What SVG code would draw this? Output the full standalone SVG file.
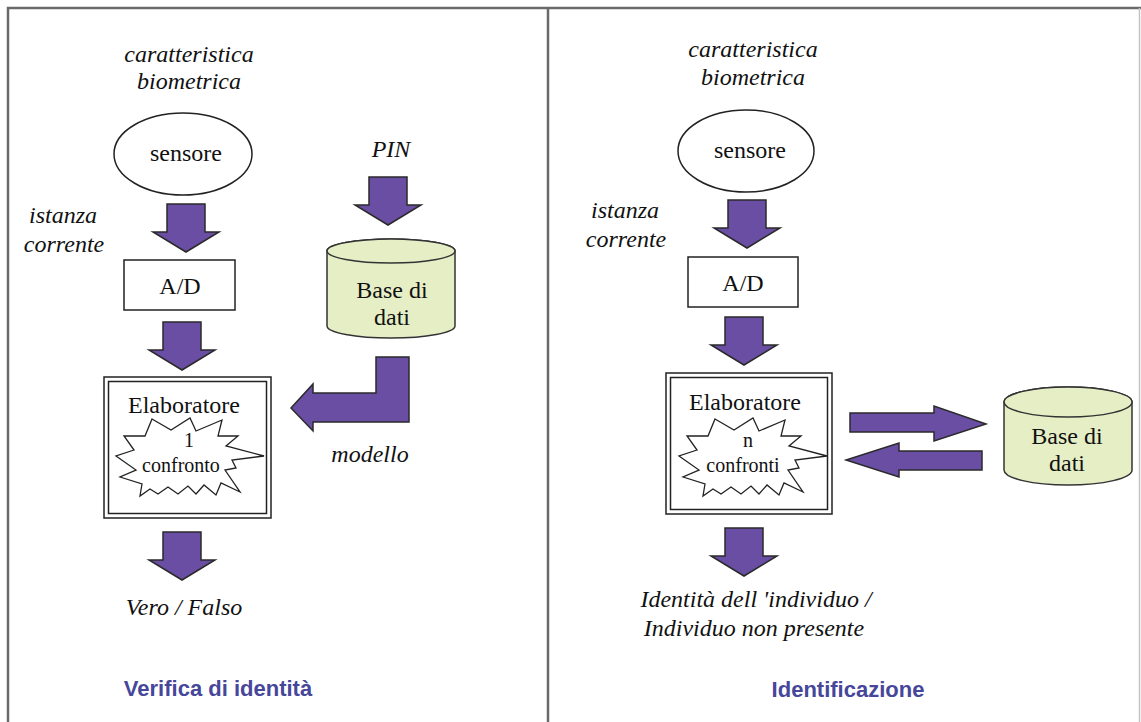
<svg xmlns="http://www.w3.org/2000/svg" xmlns:xlink="http://www.w3.org/1999/xlink" width="1141" height="722" viewBox="0 0 1141 722">
<style>
.frame{fill:none;stroke:#6a6a6a;stroke-width:2.5}
.t{font-family:"Liberation Serif","Times New Roman","DejaVu Serif",serif;font-size:24px;fill:#111;text-anchor:middle}
.it{font-family:"Liberation Serif","Times New Roman","DejaVu Serif",serif;font-style:italic;font-size:24px;fill:#111;text-anchor:middle}
.sm{font-family:"Liberation Serif","Times New Roman","DejaVu Serif",serif;font-size:20px;fill:#111;text-anchor:middle}
.title{font-family:"Liberation Sans",Arial,sans-serif;font-weight:bold;font-size:22px;fill:#46469a;text-anchor:middle}
.box{fill:#fff;stroke:#222;stroke-width:1.5}
.db{fill:#e6eec6;stroke:#333;stroke-width:1.5}
.arr{fill:#6a4ea4;stroke:#2a2a2a;stroke-width:1.5;stroke-linejoin:miter}
.star{fill:#fff;stroke:#222;stroke-width:1.3}
</style>
<defs>
<path id="down" d="M-19,0 H19 V28 H33 L0,48 L-33,28 H-19 Z"/>
<polygon id="starL" points="152,419 171,430 190,418 196,431 222,420 218,436 238,436 226,446 264,456 232,460 236,468 225,470 240,492 221,483 216,495 204,485 196,494 188,486 178,494 168,487 158,494 150,489 140,496 142,484 120,477 136,470 116,456 134,450 124,436 145,436"/>
</defs>
<rect width="1141" height="722" fill="#fff"/>
<g id="frame">
<path class="frame" d="M8,722 V8 H1141"/>
<line class="frame" x1="548" y1="8" x2="548" y2="722"/>
<line x1="1139.5" y1="8" x2="1139.5" y2="722" stroke="#c4c4c4" stroke-width="1.5"/>
</g>
<g id="connectors">
<use xlink:href="#down" href="#down" class="arr" x="186" y="204"/>
<use xlink:href="#down" href="#down" class="arr" x="182" y="322"/>
<use xlink:href="#down" href="#down" class="arr" x="182" y="532"/>
<use xlink:href="#down" href="#down" class="arr" x="388" y="177"/>
<path class="arr" d="M376,357 H409 V422 H313 V431 L291,408 L313,384 V393 H376 Z"/>
<use xlink:href="#down" href="#down" class="arr" x="747" y="200"/>
<use xlink:href="#down" href="#down" class="arr" x="744" y="317"/>
<use xlink:href="#down" href="#down" class="arr" x="744" y="528"/>
<path class="arr" d="M850,413 H934 V406 L986,424 L934,441 V432 H850 Z"/>
<path class="arr" d="M982,451 H899 V443 L846,460 L899,477 V470 H982 Z"/>
</g>
<g id="left-labels">
<text class="it" x="189" y="62">caratteristica</text>
<text class="it" x="189" y="89">biometrica</text>
<text class="it" x="63" y="223">istanza</text>
<text class="it" x="64" y="252">corrente</text>
<text class="it" x="391" y="157">PIN</text>
<text class="it" x="370" y="462">modello</text>
<text class="it" x="184" y="615">Vero / Falso</text>
<text class="title" x="218" y="696">Verifica di identità</text>
</g>
<g id="left-sensore">
<ellipse cx="183" cy="154" rx="69" ry="41" class="box"/>
<text class="t" x="186" y="161">sensore</text>
</g>
<g id="left-ad">
<rect x="124" y="260" width="111" height="50" class="box"/>
<text class="t" x="180" y="294">A/D</text>
</g>
<g id="left-db">
<path class="db" d="M327,251 A64,12 0 0 1 455,251 V326 A64,12 0 0 1 327,326 Z"/>
<ellipse cx="391" cy="251" rx="64" ry="12" class="db"/>
<text class="t" x="392" y="298">Base di</text>
<text class="t" x="392" y="325">dati</text>
</g>
<g id="left-elab">
<rect x="104" y="377" width="167" height="141" class="box" stroke-width="2"/>
<rect x="108.5" y="381.5" width="158" height="132" fill="none" stroke="#222" stroke-width="1.5"/>
<text class="t" x="184" y="413">Elaboratore</text>
<use xlink:href="#starL" href="#starL" class="star"/>
<text class="sm" x="189" y="447">1</text>
<text class="sm" x="181" y="472">confronto</text>
</g>
<g id="right-labels">
<text class="it" x="753" y="57">caratteristica</text>
<text class="it" x="753" y="85">biometrica</text>
<text class="it" x="625" y="218">istanza</text>
<text class="it" x="626" y="247">corrente</text>
<text class="it" x="756" y="607">Identità dell 'individuo /</text>
<text class="it" x="754" y="636">Individuo non presente</text>
<text class="title" x="848" y="697">Identificazione</text>
</g>
<g id="right-sensore">
<ellipse cx="746" cy="151" rx="68" ry="41" class="box"/>
<text class="t" x="750" y="158">sensore</text>
</g>
<g id="right-ad">
<rect x="688" y="257" width="110" height="50" class="box"/>
<text class="t" x="743" y="291">A/D</text>
</g>
<g id="right-elab">
<rect x="666" y="373" width="166" height="141" class="box" stroke-width="2"/>
<rect x="670.5" y="377.5" width="157" height="132" fill="none" stroke="#222" stroke-width="1.5"/>
<text class="t" x="745" y="410">Elaboratore</text>
<use xlink:href="#starL" href="#starL" class="star" transform="translate(563,0)"/>
<text class="sm" x="748" y="447">n</text>
<text class="sm" x="743" y="472">confronti</text>
</g>
<g id="right-db">
<path class="db" d="M1004,402 A64,15 0 0 1 1132,402 V470 A64,15 0 0 1 1004,470 Z"/>
<ellipse cx="1068" cy="402" rx="64" ry="15" class="db"/>
<text class="t" x="1067" y="444">Base di</text>
<text class="t" x="1067" y="471">dati</text>
</g>
</svg>
